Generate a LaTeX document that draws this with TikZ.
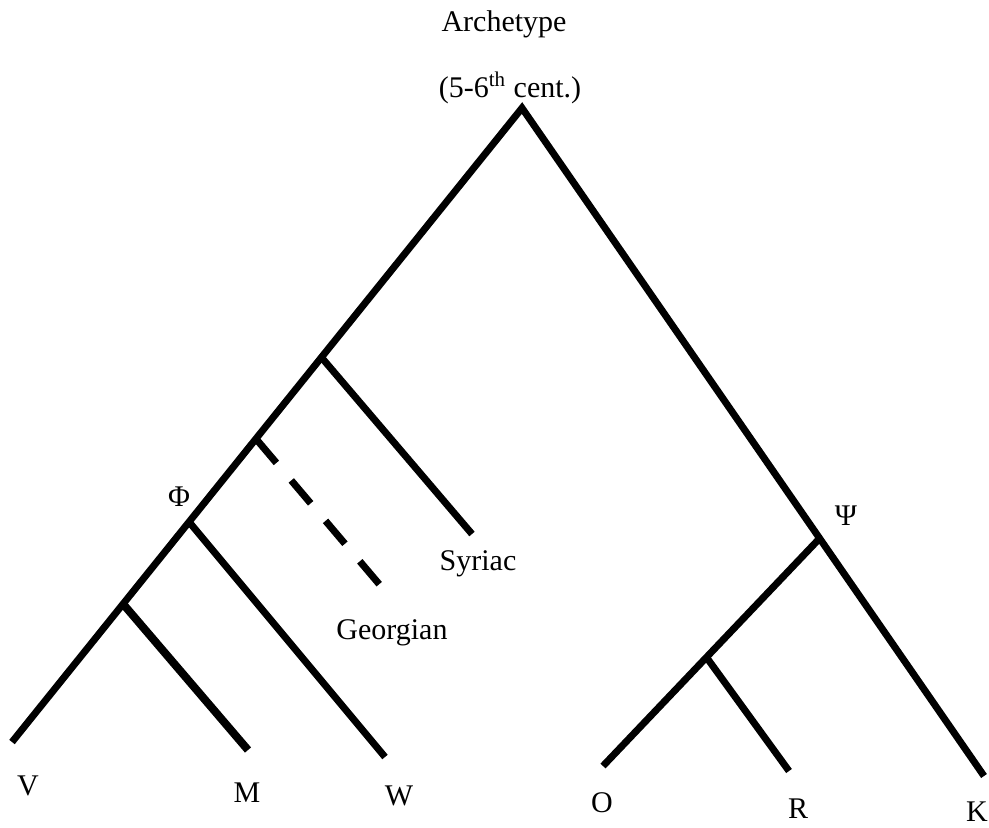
\documentclass[tikz,border=0pt]{standalone}
\usepackage{fontspec}
\setmainfont{Liberation Serif}

\tikzset{
    branch/.style={black, line width=3.5pt},
    lost/.style={black, line width=3.5pt, dash pattern=on 15pt off 11.5pt},
    lbl/.style={inner sep=0pt, font=\fontsize{15}{18}\selectfont}
}

\begin{document}
\begin{tikzpicture}[x=0.5pt, y=-0.5pt]
            \useasboundingbox (0,0) rectangle (989,827);

            % stemma points
            \coordinate (arch) at (522,108);
            \coordinate (syrN) at (322,358);
            \coordinate (geoN) at (257,440);
            \coordinate (phi) at (190,523);
            \coordinate (vmN) at (124,605);
            \coordinate (psi) at (819,539);
            \coordinate (orN) at (707,658);
            \coordinate (vEnd) at (12,742);
            \coordinate (mEnd) at (248,750);
            \coordinate (wEnd) at (385,757);
            \coordinate (syrEnd) at (472,534);
            \coordinate (geoEnd) at (385,591);
            \coordinate (oEnd) at (603,766);
            \coordinate (rEnd) at (789,771);
            \coordinate (kEnd) at (984,776);

            \draw[branch] (vEnd) -- (arch) -- (kEnd);
            \draw[branch] (syrN) -- (syrEnd);
            \draw[lost] (geoN) -- (geoEnd);
            \draw[branch] (phi) -- (wEnd);
            \draw[branch, line width=4pt] (vmN) -- (mEnd);
            \draw[branch] (psi) -- (oEnd);
            \draw[branch] (orN) -- (rEnd);

            % labels
            \node[lbl] (archLbl) at (504,24) {Archetype};
            \node[lbl] (dateLbl) at (510,88) {(5-6\textsuperscript{th} cent.)};
            \node[lbl] (phiLbl) at (179,497) {Φ};
            \node[lbl] (psiLbl) at (846,516) {Ψ};
            \node[lbl] (syrLbl) at (478,564) {Syriac};
            \node[lbl] (geoLbl) at (392,633) {Georgian};
            \node[lbl] (vLbl) at (28,786) {V};
            \node[lbl] (mLbl) at (247,793) {M};
            \node[lbl] (wLbl) at (399,796) {W};
            \node[lbl] (oLbl) at (602,803) {O};
            \node[lbl] (rLbl) at (798,809) {R};
            \node[lbl] (kLbl) at (977,812) {K};
\end{tikzpicture}
\end{document}
